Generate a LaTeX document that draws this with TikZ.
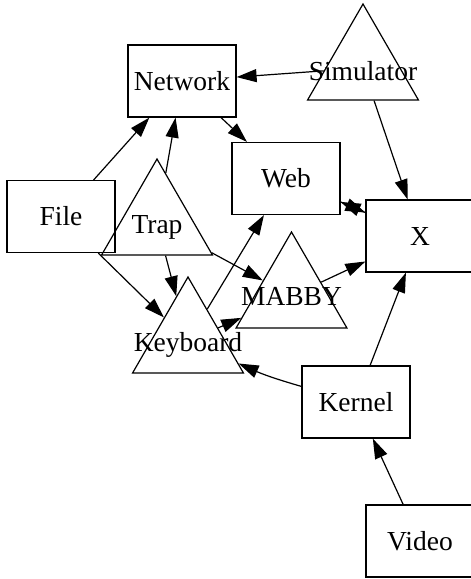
\documentclass[tikz,border=0pt]{standalone}
\usepackage{fontspec}
\setmainfont{Liberation Serif}
\usetikzlibrary{shapes.geometric,arrows.meta}
\begin{document}
\begin{tikzpicture}[x=1pt,y=-1pt,
  every node/.style={font=\fontsize{27.5}{33}\selectfont},
  box/.style={draw,line width=1.2pt,minimum width=108pt,minimum height=72pt,inner sep=0pt},
  tri/.style={draw,line width=1.2pt,regular polygon,regular polygon sides=3,minimum size=128pt,inner sep=0pt},
  lbl/.style={anchor=base,inner sep=0pt},
  arr/.style={line width=1.2pt,-{Triangle[length=20pt,width=13pt]}}]
\useasboundingbox (0,0) rectangle (471,579);
% boxes
\node[box] (net) at (182,81) {Network};
\node[box] (web) at (286,178.5) {Web};
\node[box] (file) at (61,216.5) {File};
\node[box] (x) at (420,236) {X};
\node[box] (kern) at (356,402) {Kernel};
\node[box] (video) at (420,541) {Video};
% triangles
\node[tri] (sim) at (363,68) {};
\node[tri] (trap) at (157,223) {};
\node[tri] (mab) at (291.5,296) {};
\node[tri] (key) at (188,341) {};
\node[lbl] (simL) at ([yshift=-12pt]sim.center) {Simulator};
\node[lbl] (trapL) at ([yshift=-10pt]trap.center) {Trap};
\node[lbl] (mabL) at ([yshift=-9pt]mab.center) {MABBY};
\node[lbl] (keyL) at ([yshift=-10.5pt]key.center) {Keyboard};
% edges
\draw[arr] (sim) -- (net);
\draw[arr] (sim) -- (x);
\draw[arr] (net) -- (web);
\draw[arr] (file) -- (net);
\draw[arr] (trap) -- (net);
\draw[arr] (file) -- (key);
\draw[arr] (trap) -- (key);
\draw[arr] (trap) -- (mab);
\draw[arr] (key) -- (web);
\draw[arr] (mab) -- (x);
\draw[arr] (key) -- (mab);
\draw[arr] (web) -- (x);
\draw[arr] (x) -- (web);
\draw[arr] (kern) to[bend left=4] (key);
\draw[arr] (kern) -- (x);
\draw[arr] (video) -- (kern);
\end{tikzpicture}
\end{document}
